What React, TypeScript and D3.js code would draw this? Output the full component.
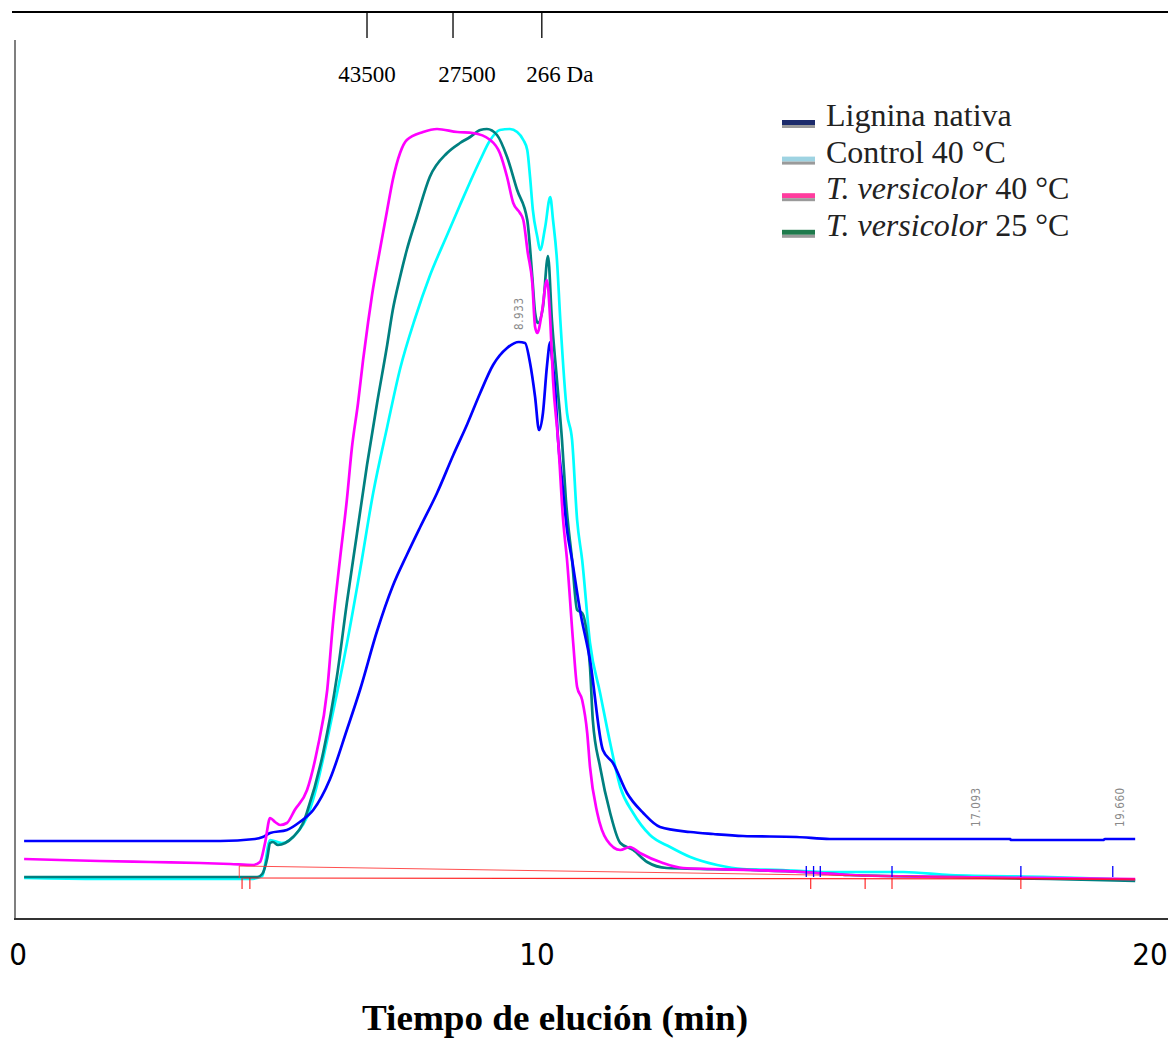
import React from "react";
import * as d3 from "d3";

// elution time (min), detector signal (a.u.)
const ligninaNativa: [number, number][] = [
    [0.1, 7.8], [3.6, 7.8], [4.22, 8.2], [4.36, 8.6], [4.49, 9.4], [4.79, 10.0],
    [5.02, 11.6], [5.26, 14.0], [5.56, 20.2], [5.86, 30.0], [6.1, 38.2], [6.4, 49.8],
    [6.68, 58.8], [6.93, 65.0], [7.17, 70.6], [7.47, 77.4], [7.76, 85.0], [8.01, 91.2],
    [8.24, 97.4], [8.47, 103.0], [8.72, 106.4], [8.93, 107.6], [9.04, 107.4], [9.13, 103.4],
    [9.22, 96.6], [9.29, 90.0], [9.36, 93.4], [9.43, 102.6], [9.49, 107.6], [9.52, 104.6],
    [9.58, 98.0], [9.63, 88.0], [9.7, 80.0], [9.79, 70.0], [9.88, 64.0], [10.02, 54.0],
    [10.2, 44.0], [10.43, 26.0], [10.61, 23.4], [10.86, 17.4], [11.15, 13.4], [11.45, 10.6],
    [11.99, 9.6], [12.4, 9.2], [12.93, 8.8], [13.89, 8.6], [14.48, 8.2], [17.7, 8.2],
    [17.71, 8.0], [19.36, 8.0], [19.39, 8.2], [19.93, 8.2]
];

const control40: [number, number][] = [
    [0.1, 0.4], [1.45, 0.2], [4.13, 0.2], [4.35, 0.8], [4.49, 8.0], [4.7, 7.4],
    [4.97, 9.4], [5.15, 12.6], [5.26, 16.2], [5.61, 33.4], [5.86, 47.2], [6.1, 62.2],
    [6.33, 77.4], [6.58, 90.6], [6.81, 102.2], [7.08, 112.4], [7.34, 120.8], [7.65, 129.0],
    [7.88, 135.0], [8.06, 139.6], [8.24, 144.0], [8.42, 148.0], [8.59, 150.0], [8.77, 150.2],
    [8.9, 149.6], [9.01, 148.0], [9.08, 146.0], [9.13, 140.6], [9.18, 134.0], [9.26, 128.6],
    [9.31, 126.0], [9.4, 130.6], [9.49, 136.6], [9.54, 132.0], [9.61, 124.0], [9.67, 112.0],
    [9.79, 93.4], [9.88, 88.0], [9.97, 72.0], [10.06, 64.0], [10.2, 47.4], [10.38, 37.4],
    [10.56, 27.4], [10.74, 18.6], [10.97, 13.4], [11.27, 9.0], [11.63, 6.6], [11.99, 4.6],
    [12.47, 3.0], [12.93, 2.2], [13.64, 2.0], [14.36, 1.6], [15.79, 1.6], [16.63, 1.0],
    [18.41, 0.6], [19.0, 0.4], [19.93, 0.0]
];

const tversicolor40: [number, number][] = [
    [0.1, 4.2], [0.74, 4.0], [1.45, 3.8], [2.35, 3.6], [3.24, 3.4], [3.78, 3.2],
    [4.19, 3.0], [4.31, 3.6], [4.4, 7.4], [4.49, 12.4], [4.58, 11.6], [4.67, 11.0],
    [4.79, 11.4], [4.93, 14.0], [5.15, 18.0], [5.33, 26.0], [5.51, 38.0], [5.61, 51.0],
    [5.74, 64.4], [5.86, 76.0], [5.95, 86.4], [6.06, 95.4], [6.15, 104.0], [6.24, 111.6],
    [6.31, 117.0], [6.45, 126.0], [6.58, 134.0], [6.68, 140.0], [6.81, 145.4], [6.93, 148.0],
    [7.22, 149.6], [7.47, 150.2], [7.83, 149.6], [8.11, 149.4], [8.42, 148.0], [8.59, 145.4],
    [8.72, 140.6], [8.83, 135.4], [8.95, 133.4], [9.01, 132.0], [9.09, 125.4], [9.17, 119.4],
    [9.22, 110.6], [9.26, 109.4], [9.34, 113.4], [9.43, 120.0], [9.49, 112.0], [9.54, 100.0],
    [9.63, 88.0], [9.72, 72.0], [9.79, 64.0], [9.9, 47.4], [9.97, 38.6], [10.06, 36.0],
    [10.15, 29.4], [10.2, 22.6], [10.33, 13.4], [10.5, 8.0], [10.74, 6.0], [10.91, 6.6],
    [11.09, 5.4], [11.5, 3.4], [11.86, 2.4], [13.06, 2.0], [14.0, 1.6], [14.84, 1.0],
    [16.63, 0.6], [19.93, 0.2]
];

const tversicolor25: [number, number][] = [
    [0.1, 0.6], [2.35, 0.6], [4.26, 0.6], [4.35, 1.2], [4.44, 4.4], [4.49, 7.4],
    [4.54, 7.6], [4.63, 7.0], [4.76, 7.4], [4.9, 8.6], [5.08, 11.4], [5.15, 13.6],
    [5.44, 25.6], [5.69, 41.2], [5.86, 55.4], [6.04, 69.2], [6.22, 83.0], [6.4, 95.4],
    [6.58, 107.0], [6.68, 114.0], [6.81, 120.6], [6.93, 126.0], [7.11, 132.6], [7.34, 140.6],
    [7.65, 145.4], [7.88, 147.4], [8.06, 148.6], [8.24, 150.0], [8.36, 150.2], [8.54, 149.0],
    [8.72, 144.6], [8.9, 138.0], [9.08, 132.0], [9.17, 120.6], [9.22, 113.4], [9.27, 111.4],
    [9.36, 114.6], [9.45, 124.8], [9.52, 112.0], [9.61, 100.0], [9.7, 88.0], [9.77, 76.0],
    [9.88, 64.0], [9.97, 54.0], [10.06, 53.4], [10.15, 48.6], [10.2, 42.6], [10.25, 32.0],
    [10.38, 22.6], [10.56, 13.4], [10.74, 7.4], [10.97, 6.0], [11.22, 3.6], [11.57, 2.4],
    [13.06, 2.0], [14.0, 1.6], [14.84, 1.0], [16.63, 0.6], [18.41, 0.2], [19.93, -0.2]
];

// integration baselines and peak marks
const baselineUpper: [number, number][] = [[3.94, 0.4], [3.94, 2.8], [19.93, 0.0]];
const baselineLower: [number, number][] = [[4.01, 0.4], [19.93, 0.2]];
const redMarks = [3.99, 4.13, 14.14, 15.11, 15.59, 17.89];
const blueMarks = [14.06, 14.19, 14.31, 15.59, 17.89, 19.53];
const peakTimes = [8.933, 17.093, 19.66];

// calibration standards
const standardTimes = [6.22, 7.755, 9.34];
const standardLabels = ["43500", "27500", "266 Da"];
const standardShift = [0, 14, 18];

const timeTicks = [0, 10, 20];

const series = [
    { data: control40, color: "#00ffff" },
    { data: tversicolor25, color: "#008080" },
    { data: ligninaNativa, color: "#0000ff" },
    { data: tversicolor40, color: "#ff00ff" }
];

const legendItems = [
    { italic: "", text: "Lignina nativa", swatch: "#1b2a6b" },
    { italic: "", text: "Control 40 °C", swatch: "#9ed3e2" },
    { italic: "T. versicolor", text: " 40 °C", swatch: "#ff3c9e" },
    { italic: "T. versicolor", text: " 25 °C", swatch: "#1f7a4c" }
];

const x = d3.scaleLinear().domain([0, 20]).range([18.5, 1139.1]);
const y = d3.scaleLinear().domain([0, 150]).range([880, 130]);
// pasted axis labels are not evenly spaced in the figure
const xLabel = d3.scaleLinear().domain([0, 10, 20]).range([18, 537, 1150]);

const line = d3
    .line<[number, number]>()
    .x(d => x(d[0]))
    .y(d => y(d[1]))
    .curve(d3.curveMonotoneX);
const straight = d3
    .line<[number, number]>()
    .x(d => x(d[0]))
    .y(d => y(d[1]));

const bisect = d3.bisector((d: [number, number]) => d[0]).center;

export default function App() {
    return (
        <svg
            width={1168}
            height={1040}
            style={{ position: "absolute", left: 0, top: 0, background: "#fff" }}
        >
            {/* standards scale on top */}
            <line x1={12} x2={1168} y1={12} y2={12} stroke="#000" strokeWidth={2} />
            {standardTimes.map((t, i) => (
                <g key={i}>
                    <line x1={x(t)} x2={x(t)} y1={12} y2={38} stroke="#000" strokeWidth={1.3} />
                    <text
                        x={x(t) + standardShift[i]}
                        y={82}
                        textAnchor="middle"
                        fontFamily="Liberation Serif"
                        fontSize={23}
                    >
                        {standardLabels[i]}
                    </text>
                </g>
            ))}

            {/* frame */}
            <line x1={15} x2={15} y1={40} y2={919} stroke="#555" strokeWidth={1.5} />
            <line x1={14} x2={1168} y1={919} y2={919} stroke="#333" strokeWidth={2} />

            {series.map((s, i) => (
                <path
                    key={i}
                    d={line(s.data) || ""}
                    fill="none"
                    stroke={s.color}
                    strokeWidth={2.7}
                    strokeLinejoin="round"
                />
            ))}

            <path d={straight(baselineUpper) || ""} fill="none" stroke="#ff3030" strokeWidth={1} opacity={0.85} />
            <path d={straight(baselineLower) || ""} fill="none" stroke="#ff0000" strokeWidth={1.2} opacity={0.85} />
            {redMarks.map((t, i) => (
                <line key={"r" + i} x1={x(t)} x2={x(t)} y1={y(0.4)} y2={y(0.4) + 11} stroke="#ff0000" strokeWidth={1} />
            ))}
            {blueMarks.map((t, i) => (
                <line key={"b" + i} x1={x(t)} x2={x(t)} y1={y(0.6) - 11} y2={y(0.6)} stroke="#0000ff" strokeWidth={1.3} />
            ))}

            {peakTimes.map((t, i) => {
                const d = ligninaNativa[bisect(ligninaNativa, t)];
                const px = x(t);
                const py = y(d[1]) - 12;
                return (
                    <text
                        key={i}
                        transform={`translate(${px + 4},${py}) rotate(-90)`}
                        fontFamily="DejaVu Sans"
                        fontSize={11.5}
                        letterSpacing={0.6}
                        fill="#8a8a8a"
                        style={{ fontStretch: "condensed" }}
                    >
                        {d3.format(".3f")(t)}
                    </text>
                );
            })}

            {/* legend */}
            {legendItems.map((item, i) => (
                <g key={i} transform={`translate(782,${120 + i * 36.6})`}>
                    <rect x={0} y={0} width={33} height={5} fill={item.swatch} />
                    <rect x={0} y={5} width={33} height={3} fill="#9a9a9a" />
                    <text x={44} y={6} fontFamily="Liberation Serif" fontSize={32} fill="#222">
                        {item.italic && <tspan fontStyle="italic">{item.italic}</tspan>}
                        {item.text}
                    </text>
                </g>
            ))}

            {/* bottom labels */}
            {timeTicks.map(t => (
                <text
                    key={t}
                    x={xLabel(t)}
                    y={965}
                    textAnchor="middle"
                    fontFamily="DejaVu Sans"
                    fontSize={31}
                    style={{ fontStretch: "condensed" }}
                >
                    {t}
                </text>
            ))}
            <text
                x={555}
                y={1030}
                textAnchor="middle"
                fontFamily="Liberation Serif"
                fontWeight="bold"
                fontSize={36}
                textLength={386}
                lengthAdjust="spacingAndGlyphs"
            >
                Tiempo de elución (min)
            </text>
        </svg>
    );
}
